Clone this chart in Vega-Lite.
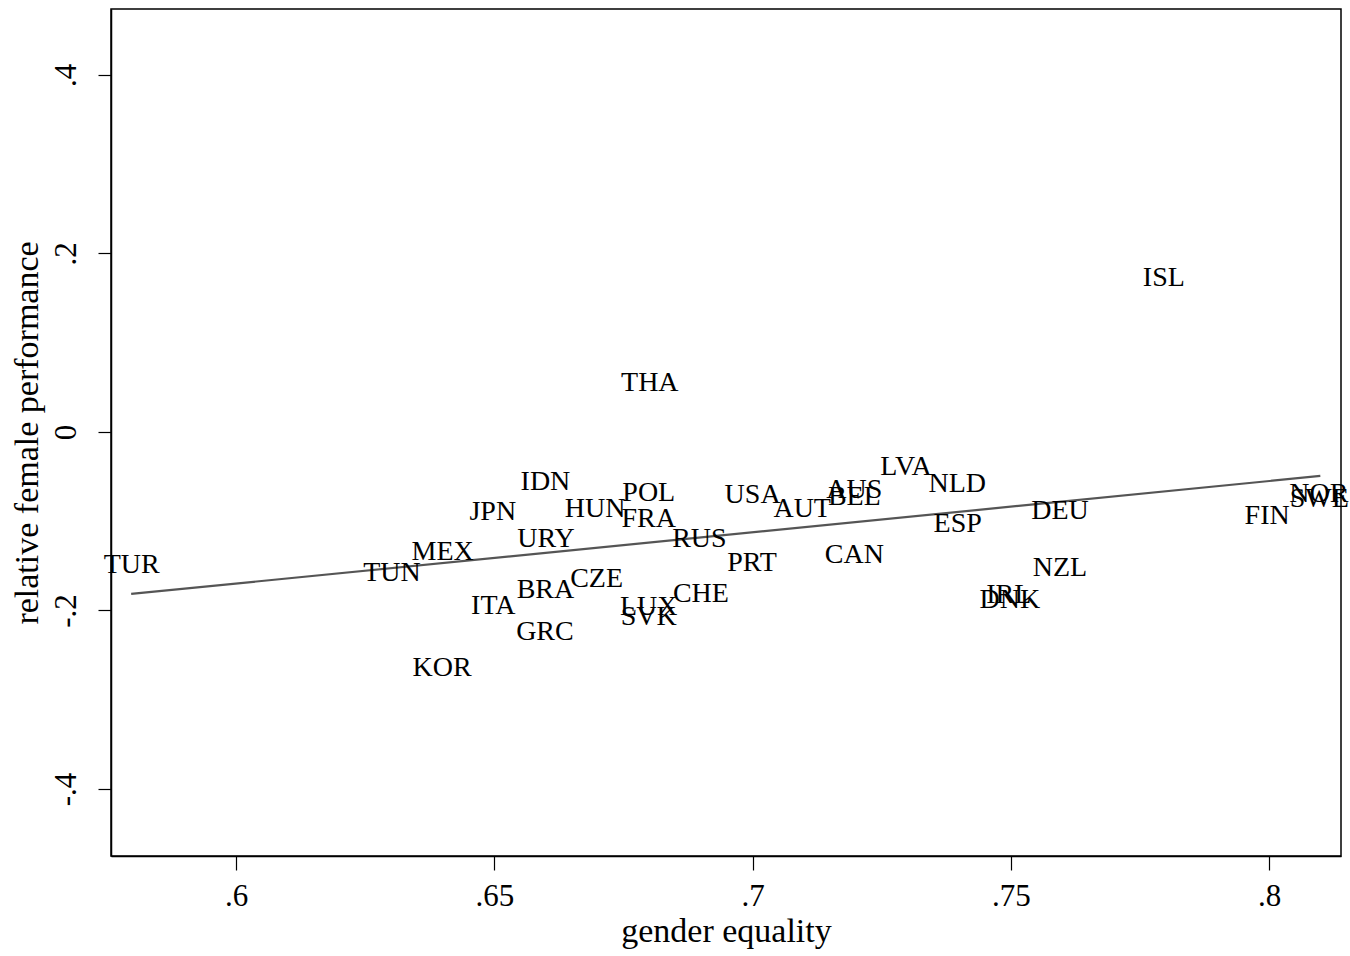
{
  "$schema": "https://vega.github.io/schema/vega-lite/v6.json",
  "autosize": "none",
  "padding": {"left": 111, "top": 9, "right": 9, "bottom": 100},
  "width": 1230,
  "height": 847,
  "background": "white",
  "config": {
    "view": {"stroke": "black", "strokeWidth": 1.5},
    "font": "Liberation Serif",
    "axis": {"grid": false, "domainColor": "black", "tickColor": "black", "labelColor": "black", "titleColor": "black", "labelFont": "Liberation Serif", "titleFont": "Liberation Serif", "titleFontWeight": "normal", "domainWidth": 1.5, "tickWidth": 1.2}
  },
  "datasets": {
    "points": [
      {"country": "TUR", "ge": 0.5798, "rfp": -0.1479},
      {"country": "TUN", "ge": 0.6302, "rfp": -0.1569},
      {"country": "MEX", "ge": 0.6400, "rfp": -0.1333},
      {"country": "KOR", "ge": 0.6399, "rfp": -0.2633},
      {"country": "JPN", "ge": 0.6497, "rfp": -0.0885},
      {"country": "ITA", "ge": 0.6498, "rfp": -0.1938},
      {"country": "IDN", "ge": 0.6599, "rfp": -0.0549},
      {"country": "URY", "ge": 0.6600, "rfp": -0.1188},
      {"country": "BRA", "ge": 0.6599, "rfp": -0.1759},
      {"country": "GRC", "ge": 0.6598, "rfp": -0.2230},
      {"country": "CZE", "ge": 0.6698, "rfp": -0.1636},
      {"country": "HUN", "ge": 0.6695, "rfp": -0.0852},
      {"country": "POL", "ge": 0.6799, "rfp": -0.0672},
      {"country": "FRA", "ge": 0.6799, "rfp": -0.0964},
      {"country": "THA", "ge": 0.6801, "rfp": 0.0560},
      {"country": "LUX", "ge": 0.6799, "rfp": -0.1950},
      {"country": "SVK", "ge": 0.6799, "rfp": -0.2062},
      {"country": "CHE", "ge": 0.6900, "rfp": -0.1804},
      {"country": "RUS", "ge": 0.6897, "rfp": -0.1188},
      {"country": "USA", "ge": 0.7000, "rfp": -0.0695},
      {"country": "PRT", "ge": 0.6999, "rfp": -0.1457},
      {"country": "AUT", "ge": 0.7096, "rfp": -0.0852},
      {"country": "AUS", "ge": 0.7197, "rfp": -0.0639},
      {"country": "BEL", "ge": 0.7197, "rfp": -0.0717},
      {"country": "CAN", "ge": 0.7197, "rfp": -0.1367},
      {"country": "LVA", "ge": 0.7297, "rfp": -0.0381},
      {"country": "NLD", "ge": 0.7396, "rfp": -0.0571},
      {"country": "ESP", "ge": 0.7397, "rfp": -0.1020},
      {"country": "IRL", "ge": 0.7496, "rfp": -0.1815},
      {"country": "DNK", "ge": 0.7498, "rfp": -0.1871},
      {"country": "DEU", "ge": 0.7595, "rfp": -0.0874},
      {"country": "NZL", "ge": 0.7595, "rfp": -0.1513},
      {"country": "ISL", "ge": 0.7796, "rfp": 0.1737},
      {"country": "FIN", "ge": 0.7996, "rfp": -0.0930},
      {"country": "NOR", "ge": 0.8096, "rfp": -0.0683},
      {"country": "SWE", "ge": 0.8097, "rfp": -0.0739}
    ],
    "fit": [
      {"ge": 0.5797, "rfp": -0.1815},
      {"ge": 0.8099, "rfp": -0.0493}
    ]
  },
  "encoding": {
    "x": {
      "field": "ge", "type": "quantitative",
      "scale": {"domain": [0.5758, 0.8139], "nice": false, "zero": false},
      "axis": {
        "title": "gender equality", "values": [0.6, 0.65, 0.7, 0.75, 0.8],
        "labelExpr": "datum.value == 0 ? '0' : (datum.value < 0 ? '-' + substring(format(-datum.value, '.2~f'), 1) : substring(format(datum.value, '.2~f'), 1))",
        "labelFontSize": 31, "titleFontSize": 34, "tickSize": 14, "labelPadding": 11, "titlePadding": 3
      }
    },
    "y": {
      "field": "rfp", "type": "quantitative",
      "scale": {"domain": [-0.4751, 0.4739], "nice": false, "zero": false},
      "axis": {
        "title": "relative female performance", "values": [-0.4, -0.2, 0, 0.2, 0.4],
        "labelExpr": "datum.value == 0 ? '0' : (datum.value < 0 ? '-' + substring(format(-datum.value, '.2~f'), 1) : substring(format(datum.value, '.2~f'), 1))",
        "labelAngle": -90, "labelAlign": "center", "labelBaseline": "bottom",
        "labelFontSize": 31, "titleFontSize": 34, "tickSize": 13, "labelPadding": 16, "titlePadding": 6
      }
    }
  },
  "layer": [
    {
      "data": {"name": "fit"},
      "mark": {"type": "line", "color": "#555555", "strokeWidth": 2.2},
      "encoding": {}
    },
    {
      "data": {"name": "points"},
      "mark": {"type": "text", "font": "Liberation Serif", "fontSize": 28, "color": "black", "align": "center", "baseline": "middle", "dy": 1},
      "encoding": {"text": {"field": "country", "type": "nominal"}}
    }
  ]
}
